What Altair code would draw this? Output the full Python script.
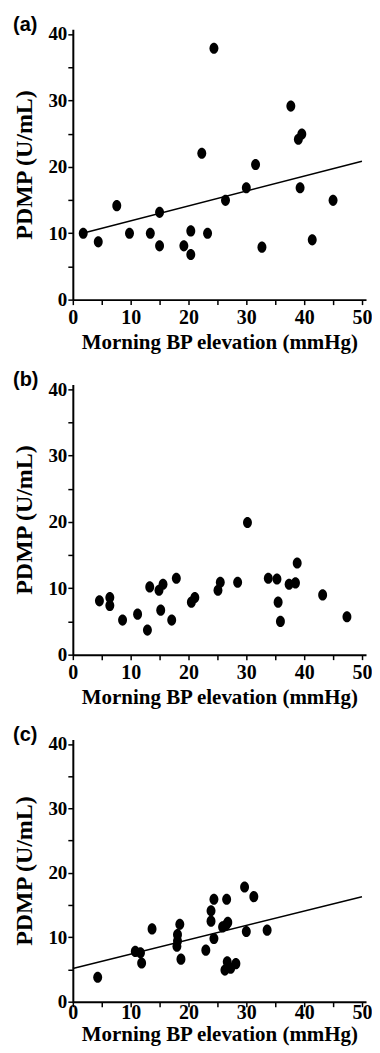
import altair as alt
import pandas as pd

# Panel (a)
a_x = [1.8, 4.4, 7.6, 9.8, 13.4, 15.0, 15.0, 19.2, 20.4, 20.4, 22.3, 23.3, 24.4, 26.4,
       30.0, 31.6, 32.7, 37.7, 39.0, 39.6, 39.3, 41.4, 45.0]
a_y = [10.0, 8.7, 14.15, 10.0, 10.0, 13.15, 8.1, 8.1, 10.35, 6.8, 22.05, 10.0, 37.85, 14.95,
       16.85, 20.35, 7.9, 29.15, 24.15, 24.95, 16.85, 9.0, 14.95]
a_line_x = [1.7, 50]
a_line_y = [10.0, 20.85]

# Panel (b)
b_x = [4.6, 6.4, 6.4, 8.6, 11.2, 12.9, 13.3, 14.9, 15.6, 15.2, 17.1, 17.9, 20.5, 21.1,
       25.1, 25.5, 28.5, 30.2, 33.8, 35.3, 35.5, 35.9, 37.4, 38.5, 38.8, 43.2, 47.4]
b_y = [8.1, 8.6, 7.4, 5.2, 6.1, 3.7, 10.2, 9.7, 10.6, 6.7, 5.2, 11.5, 7.9, 8.6,
       9.7, 10.9, 10.9, 19.9, 11.5, 11.4, 7.9, 5.0, 10.6, 10.8, 13.8, 9.0, 5.7]

# Panel (c)
c_x = [4.3, 10.8, 11.7, 11.9, 13.7, 18.1, 18.1, 18.0, 18.5, 18.7, 23.0, 23.9, 23.9, 24.4,
       24.4, 25.9, 26.5, 26.6, 26.8, 26.3, 26.7, 27.3, 28.2, 29.7, 30.0, 31.3, 33.6]
c_y = [3.8, 7.8, 7.6, 6.0, 11.3, 10.4, 9.4, 8.6, 12.0, 6.6, 8.0, 14.1, 12.5, 15.9,
       9.8, 11.6, 11.9, 15.9, 12.3, 4.9, 6.2, 5.2, 5.9, 17.8, 10.9, 16.3, 11.1]
c_line_x = [0, 50]
c_line_y = [5.15, 16.3]

x_ticks = [0, 5, 10, 15, 20, 25, 30, 35, 40, 45, 50]
y_ticks = [0, 5, 10, 15, 20, 25, 30, 35, 40]
x_title = "Morning BP elevation (mmHg)"
y_title = "PDMP (U/mL)"

SERIF = "Liberation Serif, DejaVu Serif, serif"
ELLIPSE = "M0,-1A0.8,1,0,1,1,0,1A0.8,1,0,1,1,0,-1Z"
LABEL_EXPR = "datum.value % 10 === 0 ? datum.label : ''"


def panel(label, xs, ys, w, h, lx=None, ly=None, xlab_pad=3, xtitle_pad=4):
    xenc = alt.X("x:Q", scale=alt.Scale(domain=[0, 50.7], nice=False, zero=True),
                 axis=alt.Axis(values=x_ticks, labelExpr=LABEL_EXPR, title=x_title,
                               labelFontSize=20, titleFontSize=21, labelPadding=xlab_pad,
                               titlePadding=xtitle_pad, labelFlush=False, labelOverlap=False))
    yenc = alt.Y("y:Q", scale=alt.Scale(domain=[0, 40.7], nice=False, zero=True),
                 axis=alt.Axis(values=y_ticks, labelExpr=LABEL_EXPR, title=y_title,
                               labelFontSize=19, titleFontSize=24, labelPadding=1,
                               titlePadding=11, labelFlush=False, labelOverlap=False))
    pts = alt.Chart(pd.DataFrame({"x": xs, "y": ys})).mark_point(
        shape=ELLIPSE, filled=True, color="black", size=125, opacity=1, strokeWidth=0
    ).encode(x=xenc, y=yenc)
    layers = []
    if lx is not None:
        line = alt.Chart(pd.DataFrame({"x": lx, "y": ly})).mark_line(
            color="black", strokeWidth=1.5
        ).encode(x=xenc, y=yenc)
        layers.append(line)
    layers.append(pts)
    return alt.layer(*layers).properties(
        width=w, height=h,
        title=alt.TitleParams(label, anchor="start", font="Liberation Sans",
                              fontWeight="bold", fontSize=20, color="black", offset=-10),
    )


pa = panel("(a)", a_x, a_y, 294, 271, a_line_x, a_line_y)
pb = panel("(b)", b_x, b_y, 294, 271)
pc = panel("(c)", c_x, c_y, 294, 263, c_line_x, c_line_y, xlab_pad=-4, xtitle_pad=1)

chart = alt.vconcat(pa, pb, pc, spacing=17).configure_view(stroke=None).configure_axis(
    labelFont=SERIF, labelFontWeight="bold", labelColor="black",
    titleFont=SERIF, titleFontWeight="bold", titleColor="black",
    domainColor="black", domainWidth=2, tickColor="black", tickWidth=1.5, tickSize=5,
    grid=False,
).properties(background="white", padding={"left": 5, "right": 0, "top": 5, "bottom": 0})

chart.save("out.html", embed_options={"renderer": "svg", "actions": False})
